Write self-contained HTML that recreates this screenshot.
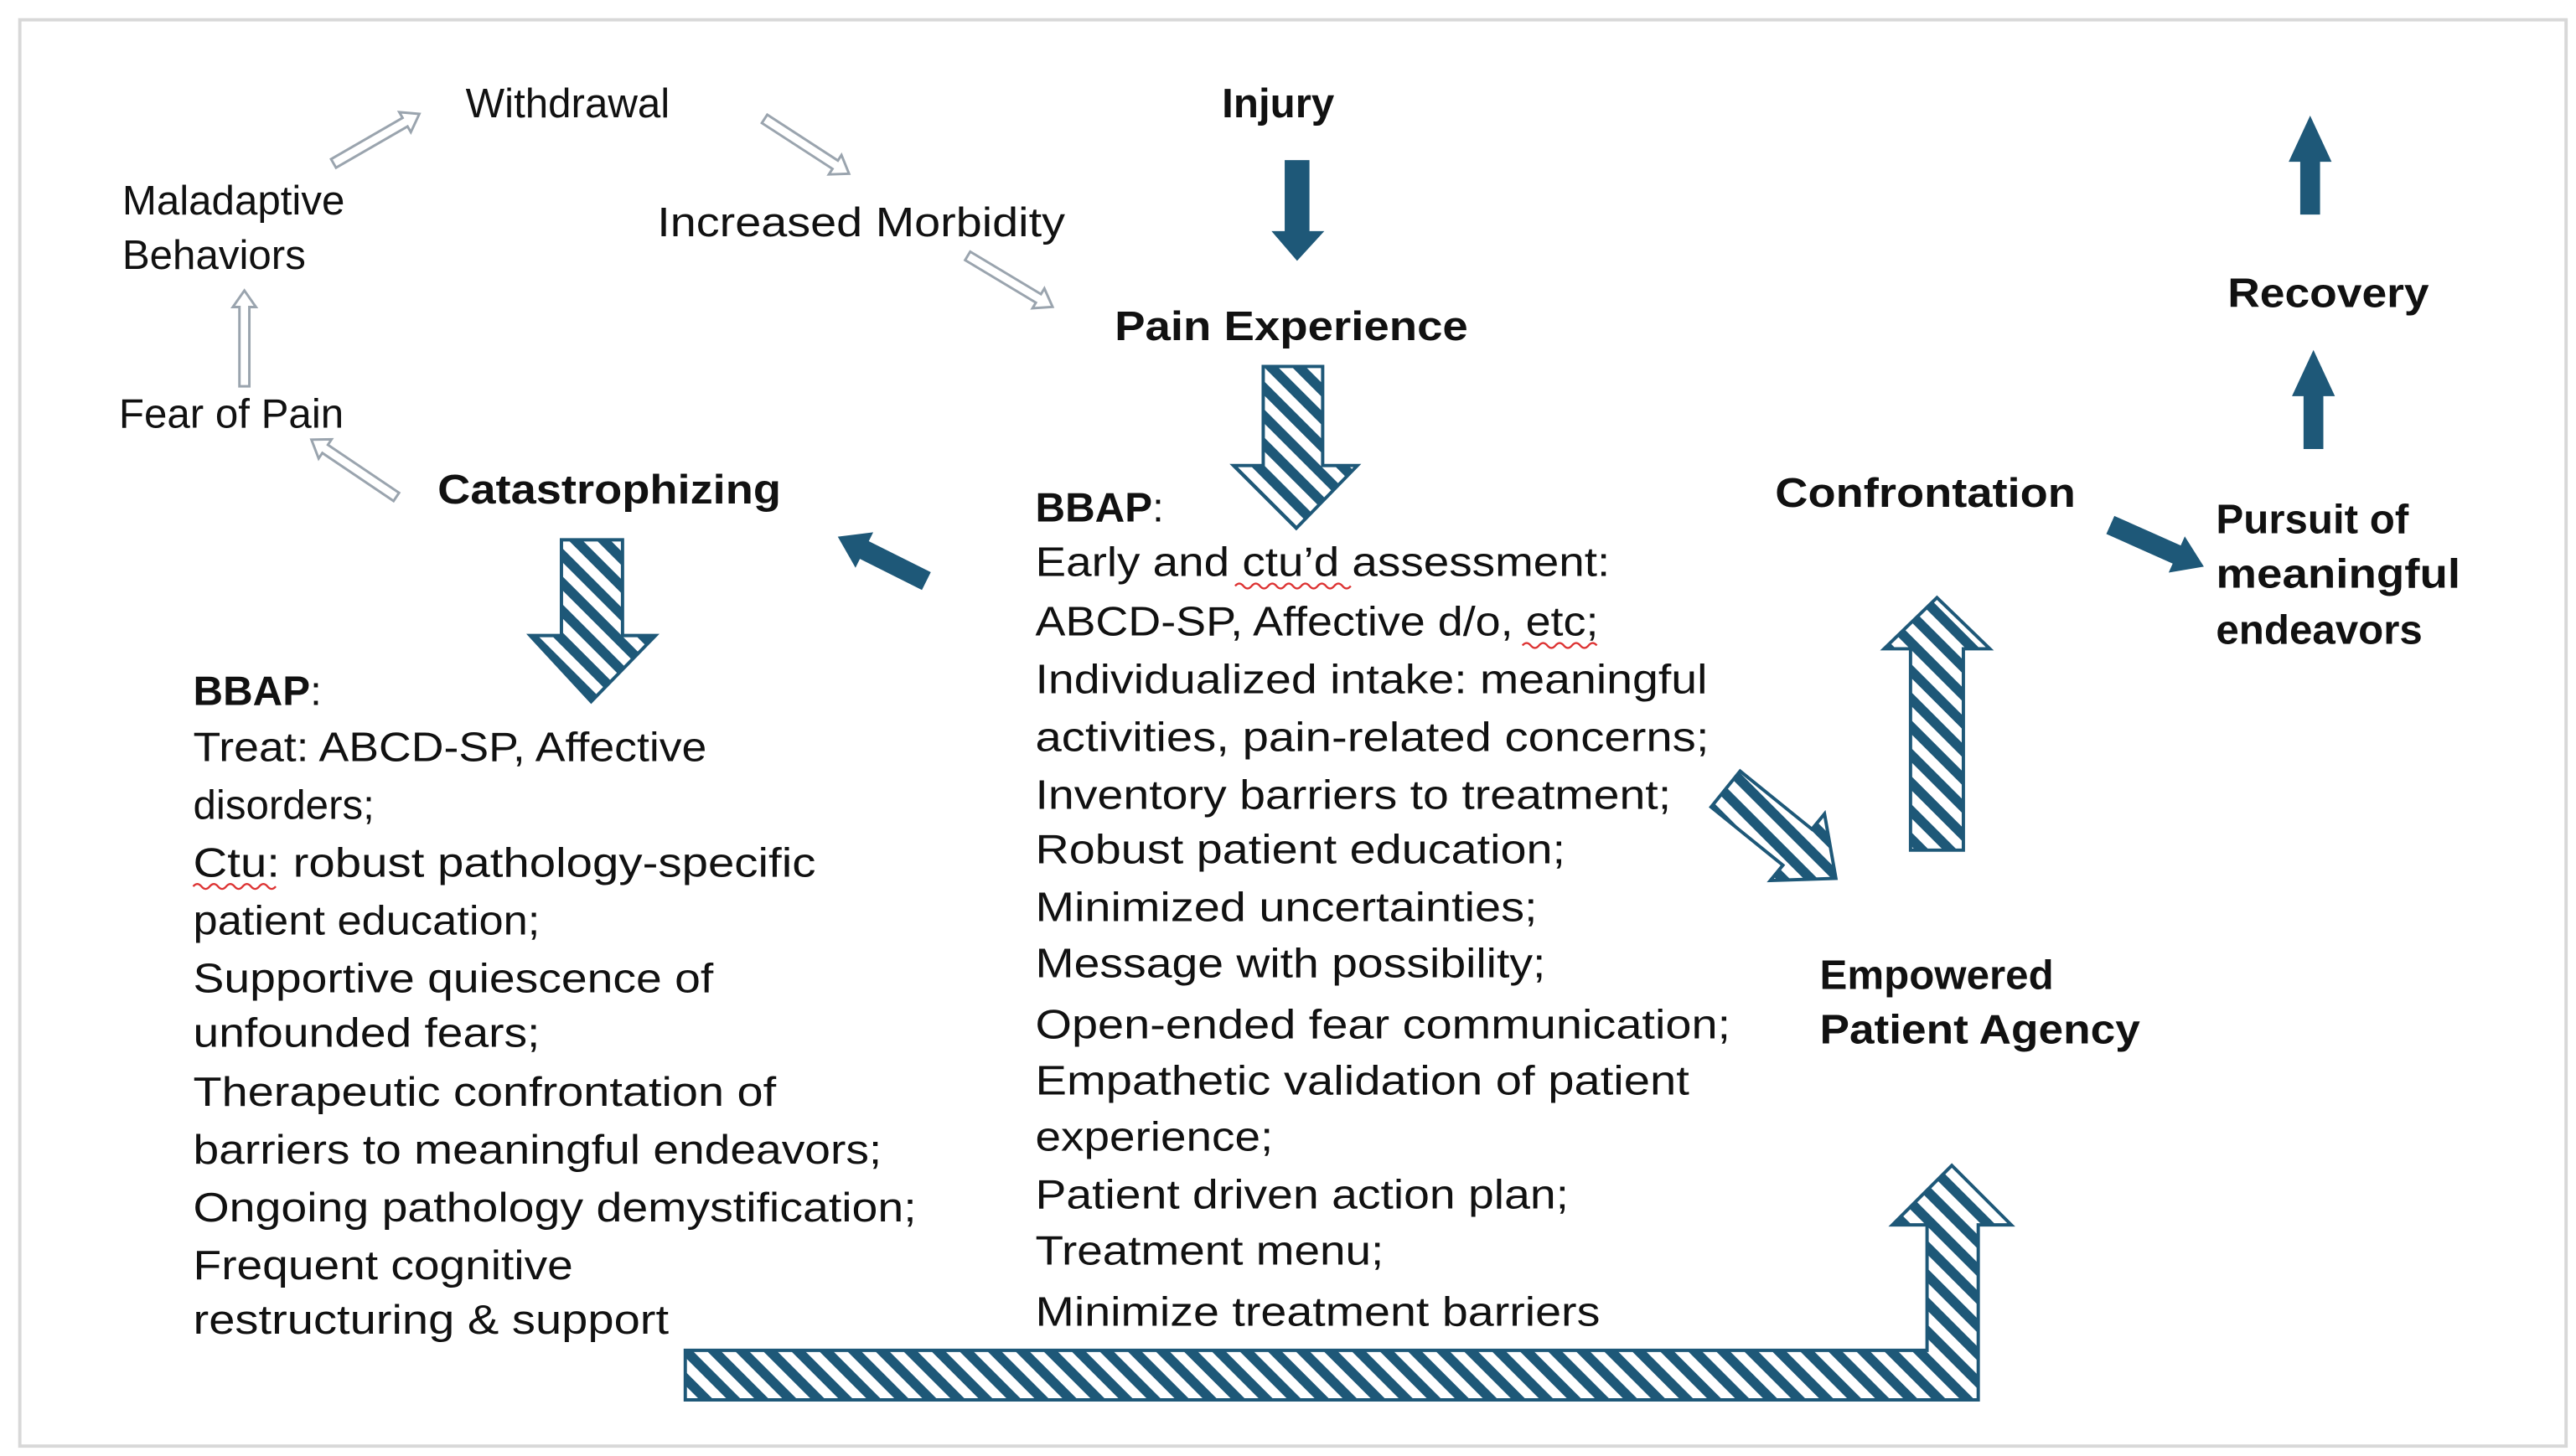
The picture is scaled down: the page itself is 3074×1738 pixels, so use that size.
<!DOCTYPE html>
<html><head><meta charset="utf-8"><style>
html,body{margin:0;padding:0;background:#fff;}
svg{display:block;}
text{font-family:"Liberation Sans",Arial,sans-serif;font-size:25px;fill:#111;}
.b{font-weight:bold;}
</style></head><body>
<svg width="3074" height="1738" viewBox="0 0 1560 882" xmlns="http://www.w3.org/2000/svg">
<defs>
<pattern id="st" patternUnits="userSpaceOnUse" width="12" height="12" patternTransform="rotate(-45)">
<rect width="12" height="12" fill="#fff"/><rect width="6" height="12" fill="#1e5878"/>
</pattern>
</defs>
<rect x="12" y="12" width="1542" height="864" fill="#fff" stroke="#d8d8d8" stroke-width="2"/>

<!-- hollow light arrows -->
<g fill="#fff" stroke="#9aa4ae" stroke-width="1.5">
<g transform="translate(148,234) rotate(-90)"><path d="M0,-3 L48,-3 L48,-7 L58,0 L48,7 L48,3 L0,3Z"/></g>
<g transform="translate(202,99) rotate(-30)"><path d="M0,-3 L50,-3 L50,-7 L60,0 L50,7 L50,3 L0,3Z"/></g>
<g transform="translate(463,72) rotate(33)"><path d="M0,-3 L51,-3 L51,-7 L61,0 L51,7 L51,3 L0,3Z"/></g>
<g transform="translate(586,155) rotate(31)"><path d="M0,-3 L50,-3 L50,-7 L60,0 L50,7 L50,3 L0,3Z"/></g>
<g transform="translate(240,301) rotate(214)"><path d="M0,-3 L52,-3 L52,-7 L62,0 L52,7 L52,3 L0,3Z"/></g>
</g>

<!-- dark solid arrows -->
<g fill="#1e5878">
<path d="M778,97 L793,97 L793,140 L802,140 L785.5,158 L770,140 L778,140Z"/>
<path d="M1393,130 L1405,130 L1405,98 L1412,98 L1399,70 L1386,98 L1393,98Z"/>
<path d="M1395,272 L1407,272 L1407,240 L1414,240 L1401,212 L1388,240 L1395,240Z"/>
<g transform="translate(1278,318) rotate(24)"><path d="M0,-6 L44,-6 L44,-12 L62,0 L44,12 L44,6 L0,6Z"/></g>
<g transform="translate(561,352) rotate(206.6)"><path d="M0,-6 L42,-6 L42,-12 L60,0 L42,12 L42,6 L0,6Z"/></g>
</g>

<!-- striped arrows -->
<g fill="url(#st)" stroke="#1e5878" stroke-width="2">
<path d="M765,222 L801,222 L801,282 L822,282 L785,320 L747,282 L765,282Z"/>
<path d="M340,327 L377,327 L377,385 L397,385 L358,425 L321,385 L340,385Z"/>
<path d="M1053.8,467.1 L1097.3,502.3 L1104.9,493 L1111.8,532.1 L1072.1,533.4 L1079.7,524.1 L1036.2,488.9Z"/>
<path d="M1157,515 L1189,515 L1189,393 L1205,393 L1173,362 L1141,393 L1157,393Z"/>
<path d="M415,818 L1167,818 L1167,742 L1146,742 L1182,706 L1218,742 L1198,742 L1198,848 L415,848Z"/>
</g>

<!-- cycle labels -->
<text x="282" y="71">Withdrawal</text>
<text x="398" y="143" textLength="247" lengthAdjust="spacingAndGlyphs">Increased Morbidity</text>
<text x="74" y="130">Maladaptive</text>
<text x="74" y="163">Behaviors</text>
<text x="72" y="259">Fear of Pain</text>

<!-- headers -->
<text class="b" x="740" y="71">Injury</text>
<text class="b" x="675" y="206" textLength="214" lengthAdjust="spacingAndGlyphs">Pain  Experience</text>
<text class="b" x="265" y="305" textLength="208" lengthAdjust="spacingAndGlyphs">Catastrophizing</text>
<text class="b" x="1075" y="307" textLength="182" lengthAdjust="spacingAndGlyphs">Confrontation</text>
<text class="b" x="1349" y="186" textLength="122" lengthAdjust="spacingAndGlyphs">Recovery</text>
<text class="b" x="1342" y="323">Pursuit of</text>
<text class="b" x="1342" y="356" textLength="148" lengthAdjust="spacingAndGlyphs">meaningful</text>
<text class="b" x="1342" y="390">endeavors</text>
<text class="b" x="1102" y="599">Empowered</text>
<text class="b" x="1102" y="632" textLength="194" lengthAdjust="spacingAndGlyphs">Patient Agency</text>

<!-- left BBAP -->
<text class="b" x="117" y="427">BBAP<tspan font-weight="normal">:</tspan></text>
<text x="117" y="461" textLength="311" lengthAdjust="spacingAndGlyphs">Treat: ABCD-SP, Affective</text>
<text x="117" y="496">disorders;</text>
<text x="117" y="531" textLength="377" lengthAdjust="spacingAndGlyphs">Ctu: robust pathology-specific</text>
<text x="117" y="566" textLength="210" lengthAdjust="spacingAndGlyphs">patient education;</text>
<text x="117" y="601" textLength="315" lengthAdjust="spacingAndGlyphs">Supportive quiescence of</text>
<text x="117" y="634" textLength="210" lengthAdjust="spacingAndGlyphs">unfounded fears;</text>
<text x="117" y="670" textLength="353" lengthAdjust="spacingAndGlyphs">Therapeutic confrontation of</text>
<text x="117" y="705" textLength="417" lengthAdjust="spacingAndGlyphs">barriers to meaningful endeavors;</text>
<text x="117" y="740" textLength="438" lengthAdjust="spacingAndGlyphs">Ongoing pathology demystification;</text>
<text x="117" y="775" textLength="230" lengthAdjust="spacingAndGlyphs">Frequent cognitive</text>
<text x="117" y="808" textLength="288" lengthAdjust="spacingAndGlyphs">restructuring &amp; support</text>

<!-- middle BBAP -->
<text class="b" x="627" y="316">BBAP<tspan font-weight="normal">:</tspan></text>
<text x="627" y="349" textLength="348" lengthAdjust="spacingAndGlyphs">Early and ctu’d assessment:</text>
<text x="627" y="385" textLength="341" lengthAdjust="spacingAndGlyphs">ABCD-SP, Affective d/o, etc;</text>
<text x="627" y="420" textLength="407" lengthAdjust="spacingAndGlyphs">Individualized intake: meaningful</text>
<text x="627" y="455" textLength="408" lengthAdjust="spacingAndGlyphs">activities, pain-related concerns;</text>
<text x="627" y="490" textLength="385" lengthAdjust="spacingAndGlyphs">Inventory barriers to treatment;</text>
<text x="627" y="523" textLength="321" lengthAdjust="spacingAndGlyphs">Robust patient education;</text>
<text x="627" y="558" textLength="304" lengthAdjust="spacingAndGlyphs">Minimized uncertainties;</text>
<text x="627" y="592" textLength="309" lengthAdjust="spacingAndGlyphs">Message with possibility;</text>
<text x="627" y="629" textLength="421" lengthAdjust="spacingAndGlyphs">Open-ended fear communication;</text>
<text x="627" y="663" textLength="396" lengthAdjust="spacingAndGlyphs">Empathetic validation of patient</text>
<text x="627" y="697" textLength="144" lengthAdjust="spacingAndGlyphs">experience;</text>
<text x="627" y="732" textLength="323" lengthAdjust="spacingAndGlyphs">Patient driven action plan;</text>
<text x="627" y="766" textLength="211" lengthAdjust="spacingAndGlyphs">Treatment menu;</text>
<text x="627" y="803" textLength="342" lengthAdjust="spacingAndGlyphs">Minimize treatment barriers</text>

<!-- spellcheck squiggles -->
<g fill="none" stroke="#d33" stroke-width="1.2">
<path d="M748,355 q2.5,-3 5,0 t5,0 t5,0 t5,0 t5,0 t5,0 t5,0 t5,0 t5,0 t5,0 t5,0 t5,0 t5,0 t5,0"/>
<path d="M922,391 q2.5,-3 5,0 t5,0 t5,0 t5,0 t5,0 t5,0 t5,0 t5,0 t5,0"/>
<path d="M117,537 q2.5,-3 5,0 t5,0 t5,0 t5,0 t5,0 t5,0 t5,0 t5,0 t5,0 t5,0"/>
</g>
</svg>
</body></html>
